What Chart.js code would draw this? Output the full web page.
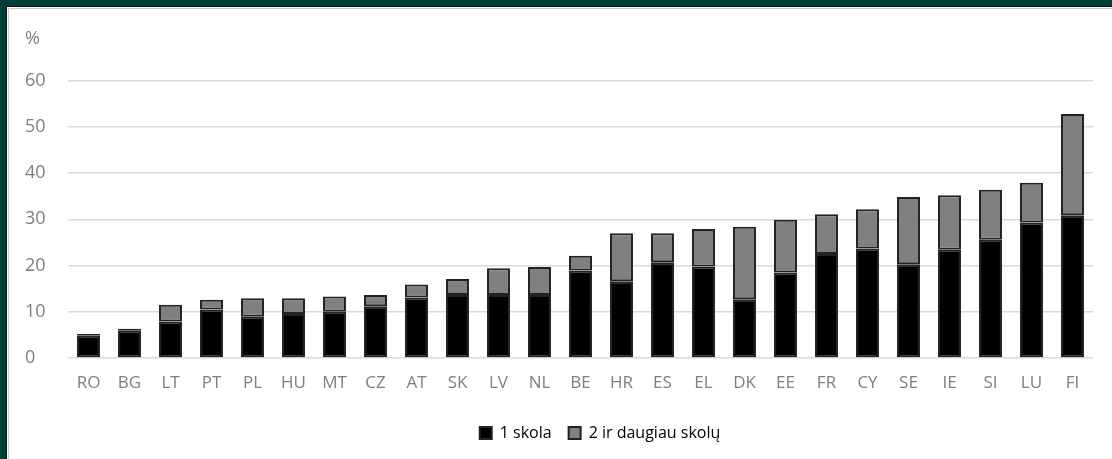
<!DOCTYPE html>
<html>
<head>
<meta charset="utf-8">
<script src="https://cdn.jsdelivr.net/npm/chart.js@4/dist/chart.umd.min.js"></script>
<style>
  html, body { margin: 0; padding: 0; background: #023f3c; width: 1112px; height: 459px; overflow: hidden; }
  #frame {
    position: absolute; left: 6px; top: 6px; width: 1106px; height: 453px;
    background: #fff; border-left: 1px solid #111; border-top: 1px solid #111;
    box-sizing: border-box;
  }
  #inner {
    position: absolute; left: 1px; top: 1px; right: 0; bottom: 0;
    border-left: 1px solid #c8c8c8; border-top: 1px solid #c8c8c8;
  }
  #wrap { position: absolute; left: 0; top: 0; width: 1103px; height: 450px; }
</style>
</head>
<body>
<div id="frame"><div id="inner"><div id="wrap"><canvas id="chart"></canvas></div></div></div>
<script>
  // countries, sorted by total share
  const countries = ["RO", "BG", "LT", "PT", "PL", "HU", "MT", "CZ", "AT", "SK", "LV", "NL", "BE",
    "HR", "ES", "EL", "DK", "EE", "FR", "CY", "SE", "IE", "SI", "LU", "FI"];

  // share with one debt
  const oneDebt = [4.8, 5.9, 7.9, 10.5, 8.9, 9.5, 10.0, 11.2, 13.1, 13.6, 13.6, 13.6, 18.9,
    16.6, 20.7, 19.8, 12.7, 18.5, 22.5, 23.7, 20.3, 23.4, 25.6, 29.3, 30.9];

  // totals
  const totals = [5.2, 6.3, 11.5, 12.6, 12.9, 12.9, 13.3, 13.6, 15.9, 17.1, 19.4, 19.7, 22.1,
    27.0, 27.0, 27.9, 28.4, 29.9, 31.1, 32.2, 34.8, 35.2, 36.4, 37.9, 52.8];

  const twoOrMore = totals.map((t, i) => +(t - oneDebt[i]).toFixed(1));

  const yTicks = [0, 10, 20, 30, 40, 50, 60];
  const seriesNames = ["1 skola", "2 ir daugiau skolų"];

  const grey = "#7f7f7f";
  const font = "'Open Sans', sans-serif";

  // legend sits a bit right of centre in the original
  const shiftLegend = {
    id: "shiftLegend",
    afterLayout(chart) {
      chart.legend.left += 41;
      chart.legend.right += 41;
    },
  };

  new Chart(document.getElementById("chart"), {
    type: "bar",
    data: {
      labels: countries,
      datasets: [
        {
          label: seriesNames[0],
          data: oneDebt,
          backgroundColor: "#000000",
          borderColor: "#222222",
          borderWidth: 2,
          borderSkipped: false,
        },
        {
          label: seriesNames[1],
          data: twoOrMore,
          backgroundColor: "#808080",
          borderColor: "#222222",
          borderWidth: 2,
          borderSkipped: false,
        },
      ],
    },
    options: {
      responsive: true,
      maintainAspectRatio: false,
      animation: false,
      layout: { padding: { left: 16, right: 19, top: 0, bottom: 8 } },
      datasets: { bar: { categoryPercentage: 0.8, barPercentage: 0.7 } },
      scales: {
        x: {
          stacked: true,
          grid: { display: false, drawTicks: false },
          border: { display: false },
          afterFit: (scale) => { scale.height = 50; },
          ticks: { color: grey, font: { family: font, size: 17 }, padding: 15, maxRotation: 0 },
        },
        y: {
          stacked: true,
          min: 0,
          max: 60,
          afterBuildTicks: (scale) => { scale.ticks = yTicks.map((v) => ({ value: v })); },
          afterFit: (scale) => { scale.width = 43; },
          grid: { color: "#d9d9d9", lineWidth: 1.5, drawTicks: false },
          border: { display: false },
          ticks: { color: grey, font: { family: font, size: 18 }, crossAlign: "far", padding: 8 },
        },
      },
      plugins: {
        title: {
          display: true,
          text: "%",
          align: "start",
          color: grey,
          font: { family: font, size: 18, weight: "normal" },
          padding: { top: 19, bottom: 31 },
        },
        legend: {
          position: "bottom",
          labels: {
            color: "#000",
            font: { family: font, size: 16 },
            boxWidth: 12,
            boxHeight: 12,
            padding: 17,
          },
        },
        tooltip: { enabled: false },
      },
    },
    plugins: [shiftLegend],
  });
</script>
</body>
</html>
